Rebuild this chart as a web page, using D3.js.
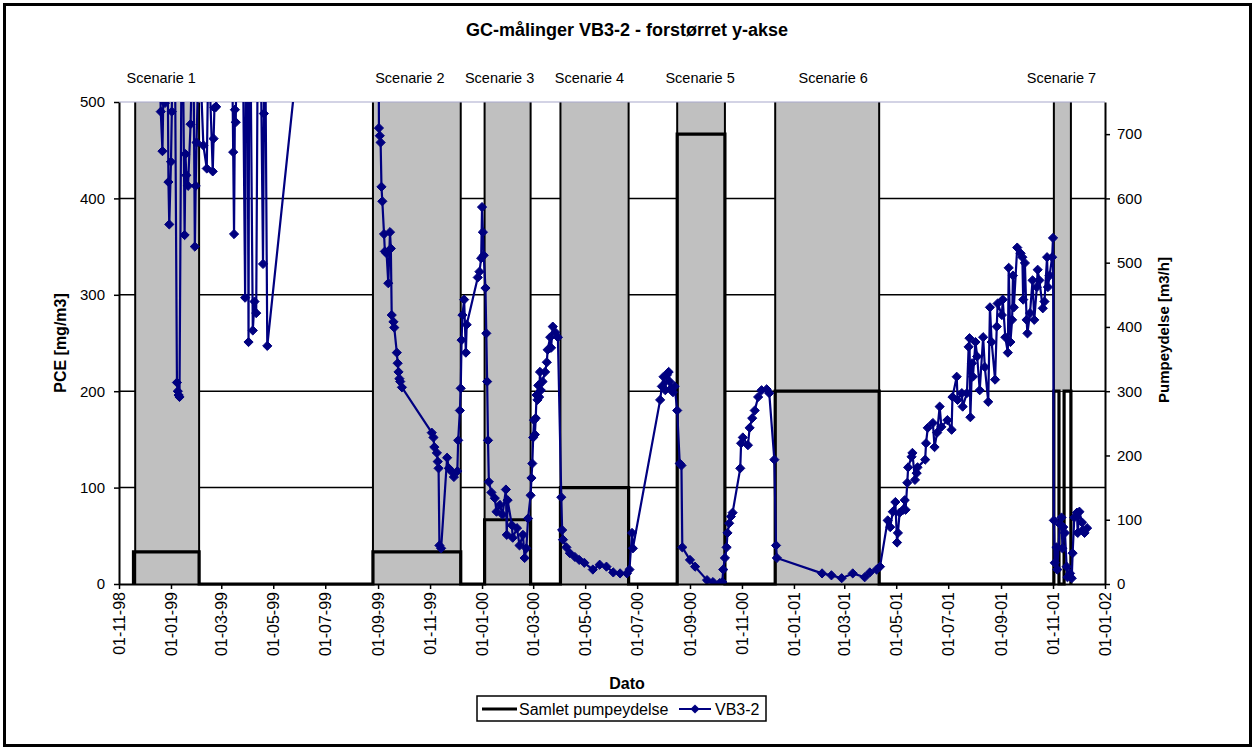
<!DOCTYPE html>
<html>
<head>
<meta charset="utf-8">
<script src="https://cdn.jsdelivr.net/npm/d3@7"></script>
<style>
  body { margin: 0; background: #fff; }
</style>
</head>
<body>
<div id="chart"></div>
<script>
// 1. DATA
const scenarioNames = ["Scenarie 1", "Scenarie 2", "Scenarie 3", "Scenarie 4", "Scenarie 5", "Scenarie 6", "Scenarie 7"];
const scenarioStart = ["1998-11-20", "1999-08-26", "2000-01-04", "2000-04-02", "2000-08-17", "2000-12-10", "2001-11-02"];
const scenarioEnd = ["1999-02-03", "1999-12-07", "2000-02-27", "2000-06-21", "2000-10-12", "2001-04-11", "2001-11-22"];
// shading floor on the right axis (scenario 7 is only shaded above the pump level)
const shadeFloor = [0, 0, 0, 0, 0, 0, 300];

// Samlet pumpeydelse [m3/h], one entry per pumping period
const pumpStart = ["1998-11-18", "1999-08-26", "2000-01-04", "2000-04-02", "2000-08-17", "2000-12-10", "2001-11-02", "2001-11-14"];
const pumpEnd = ["1999-02-03", "1999-12-07", "2000-02-27", "2000-06-21", "2000-10-12", "2001-04-11", "2001-11-08", "2001-11-22"];
const pumpRate = [50, 50, 100, 150, 700, 300, 300, 300];

// VB3-2, PCE [mg/m3]
const pceSamples = [
  ["1998-12-17", 620], ["1998-12-20", 490], ["1998-12-22", 449], ["1998-12-24", 560], ["1998-12-25", 499],
  ["1998-12-27", 700], ["1998-12-29", 417], ["1998-12-30", 373], ["1999-01-01", 438], ["1999-01-02", 490],
  ["1999-01-04", 800], ["1999-01-08", 209], ["1999-01-09", 200], ["1999-01-10", 196], ["1999-01-11", 194],
  ["1999-01-14", 650], ["1999-01-17", 362], ["1999-01-18", 446], ["1999-01-19", 424], ["1999-01-21", 413],
  ["1999-01-24", 477], ["1999-01-27", 600], ["1999-01-29", 350], ["1999-01-30", 413], ["1999-01-31", 458],
  ["1999-02-03", 570], ["1999-02-08", 455], ["1999-02-12", 431], ["1999-02-14", 560], ["1999-02-19", 428],
  ["1999-02-20", 462], ["1999-02-21", 494], ["1999-02-23", 495], ["1999-02-25", 600], ["1999-03-12", 700],
  ["1999-03-15", 448], ["1999-03-16", 363], ["1999-03-17", 492], ["1999-03-18", 479], ["1999-03-23", 900],
  ["1999-03-29", 297], ["1999-03-31", 800], ["1999-04-02", 251], ["1999-04-03", 700], ["1999-04-07", 263],
  ["1999-04-09", 293], ["1999-04-11", 281], ["1999-04-14", 750], ["1999-04-19", 332], ["1999-04-20", 488],
  ["1999-04-21", 650], ["1999-04-24", 247], ["1999-08-31", 1330],
  ["1999-09-02", 473], ["1999-09-03", 465], ["1999-09-04", 458], ["1999-09-05", 412], ["1999-09-06", 397],
  ["1999-09-08", 363], ["1999-09-09", 345], ["1999-09-11", 343], ["1999-09-13", 312], ["1999-09-15", 365],
  ["1999-09-16", 348], ["1999-09-17", 279], ["1999-09-19", 272], ["1999-09-20", 266], ["1999-09-23", 240],
  ["1999-09-24", 229], ["1999-09-25", 220], ["1999-09-26", 213], ["1999-09-27", 210], ["1999-09-29", 204],
  ["1999-11-03", 157], ["1999-11-05", 152], ["1999-11-06", 142], ["1999-11-09", 136], ["1999-11-10", 127],
  ["1999-11-11", 120], ["1999-11-12", 40], ["1999-11-14", 37], ["1999-11-21", 131], ["1999-11-23", 120],
  ["1999-11-27", 116], ["1999-11-29", 111], ["1999-12-03", 117], ["1999-12-04", 149], ["1999-12-06", 180],
  ["1999-12-07", 203], ["1999-12-08", 253], ["1999-12-09", 279], ["1999-12-11", 295], ["1999-12-13", 240],
  ["1999-12-14", 269], ["1999-12-27", 318], ["1999-12-29", 324], ["1999-12-31", 338], ["2000-01-01", 391],
  ["2000-01-02", 365], ["2000-01-03", 341], ["2000-01-05", 307], ["2000-01-06", 260], ["2000-01-07", 210],
  ["2000-01-08", 149], ["2000-01-09", 106], ["2000-01-12", 95], ["2000-01-16", 89], ["2000-01-18", 75],
  ["2000-01-22", 82], ["2000-01-25", 72], ["2000-01-29", 98], ["2000-01-30", 51], ["2000-01-31", 87],
  ["2000-02-05", 61], ["2000-02-06", 48], ["2000-02-11", 58], ["2000-02-14", 40], ["2000-02-18", 51],
  ["2000-02-20", 27], ["2000-02-22", 37], ["2000-02-24", 68], ["2000-02-27", 92], ["2000-02-28", 110],
  ["2000-02-29", 125], ["2000-03-01", 152], ["2000-03-02", 170], ["2000-03-03", 155], ["2000-03-04", 172],
  ["2000-03-05", 196], ["2000-03-06", 191], ["2000-03-07", 206], ["2000-03-08", 194], ["2000-03-09", 220],
  ["2000-03-10", 201], ["2000-03-12", 210], ["2000-03-15", 220], ["2000-03-17", 230], ["2000-03-18", 243],
  ["2000-03-21", 256], ["2000-03-22", 245], ["2000-03-24", 267], ["2000-03-27", 261], ["2000-03-30", 256],
  ["2000-04-03", 90], ["2000-04-04", 56], ["2000-04-05", 46], ["2000-04-09", 38], ["2000-04-13", 32],
  ["2000-04-19", 28], ["2000-04-24", 25], ["2000-04-30", 22], ["2000-05-10", 15], ["2000-05-18", 20],
  ["2000-05-26", 18], ["2000-06-03", 12], ["2000-06-11", 11], ["2000-06-19", 11], ["2000-06-22", 15],
  ["2000-06-25", 53], ["2000-06-26", 37], ["2000-07-28", 191], ["2000-07-30", 205], ["2000-08-01", 215],
  ["2000-08-03", 201], ["2000-08-05", 217], ["2000-08-07", 220], ["2000-08-08", 210], ["2000-08-10", 203],
  ["2000-08-12", 199], ["2000-08-14", 205], ["2000-08-17", 180], ["2000-08-20", 125], ["2000-08-22", 123],
  ["2000-08-23", 38], ["2000-09-01", 25], ["2000-09-07", 18], ["2000-09-21", 4], ["2000-09-28", 2],
  ["2000-10-06", 1], ["2000-10-09", 2], ["2000-10-10", 15], ["2000-10-12", 27], ["2000-10-14", 38],
  ["2000-10-15", 53], ["2000-10-17", 63], ["2000-10-19", 70], ["2000-10-21", 74], ["2000-10-30", 120],
  ["2000-10-31", 146], ["2000-11-02", 152], ["2000-11-08", 144], ["2000-11-10", 162], ["2000-11-13", 172],
  ["2000-11-16", 180], ["2000-11-20", 194], ["2000-11-24", 201], ["2000-11-30", 202], ["2000-12-03", 198],
  ["2000-12-09", 129], ["2000-12-11", 40], ["2000-12-12", 27], ["2001-02-03", 11], ["2001-02-14", 9],
  ["2001-02-26", 6], ["2001-03-11", 11], ["2001-03-25", 7], ["2001-03-31", 12], ["2001-04-08", 15],
  ["2001-04-12", 18], ["2001-04-21", 66], ["2001-04-24", 59], ["2001-04-27", 75], ["2001-04-30", 85],
  ["2001-05-02", 43], ["2001-05-03", 53], ["2001-05-05", 74], ["2001-05-09", 77], ["2001-05-11", 87],
  ["2001-05-12", 77], ["2001-05-14", 105], ["2001-05-15", 121], ["2001-05-19", 132], ["2001-05-20", 136],
  ["2001-05-23", 108], ["2001-05-25", 115], ["2001-05-26", 121], ["2001-06-04", 129], ["2001-06-05", 146],
  ["2001-06-07", 162], ["2001-06-13", 167], ["2001-06-15", 142], ["2001-06-18", 157], ["2001-06-21", 184],
  ["2001-06-23", 163], ["2001-06-30", 170], ["2001-07-05", 160], ["2001-07-06", 194], ["2001-07-11", 215],
  ["2001-07-12", 191], ["2001-07-17", 198], ["2001-07-18", 184], ["2001-07-23", 198], ["2001-07-25", 246],
  ["2001-07-26", 255], ["2001-07-27", 173], ["2001-07-29", 229], ["2001-07-30", 215], ["2001-08-02", 251],
  ["2001-08-04", 236], ["2001-08-07", 201], ["2001-08-11", 256], ["2001-08-13", 225], ["2001-08-17", 189],
  ["2001-08-19", 287], ["2001-08-21", 251], ["2001-08-25", 212], ["2001-08-27", 267], ["2001-08-28", 291],
  ["2001-09-02", 279], ["2001-09-03", 295], ["2001-09-06", 256], ["2001-09-09", 240], ["2001-09-10", 328],
  ["2001-09-12", 251], ["2001-09-14", 274], ["2001-09-15", 320], ["2001-09-16", 287], ["2001-09-20", 349],
  ["2001-09-24", 343], ["2001-09-26", 339], ["2001-09-27", 295], ["2001-09-29", 333], ["2001-10-01", 274],
  ["2001-10-02", 260], ["2001-10-05", 281], ["2001-10-08", 315], ["2001-10-10", 274], ["2001-10-13", 308],
  ["2001-10-14", 326], ["2001-10-16", 315], ["2001-10-20", 286], ["2001-10-22", 293], ["2001-10-25", 339],
  ["2001-10-26", 308], ["2001-10-28", 320], ["2001-10-31", 339], ["2001-11-01", 359], ["2001-11-02", 66],
  ["2001-11-03", 22], ["2001-11-05", 38], ["2001-11-06", 15], ["2001-11-09", 62], ["2001-11-11", 69],
  ["2001-11-12", 37], ["2001-11-13", 59], ["2001-11-15", 53], ["2001-11-17", 18], ["2001-11-18", 7],
  ["2001-11-21", 11], ["2001-11-23", 6], ["2001-11-24", 32], ["2001-11-26", 69], ["2001-11-29", 74],
  ["2001-11-30", 53], ["2001-12-02", 75], ["2001-12-05", 64], ["2001-12-06", 56], ["2001-12-08", 53],
  ["2001-12-11", 58]
];

const leftTicks = [0, 100, 200, 300, 400, 500];
const rightTicks = [0, 100, 200, 300, 400, 500, 600, 700];
const gridValues = [100, 200, 300, 400];

// 2. CONFIGURATION
const width = 1260;
const height = 751;
const plot = { left: 119, right: 1105, top: 102, bottom: 584 };
const font = "'Liberation Sans', Arial, sans-serif";
const theme = {
  shade: "#c0c0c0",
  series: "#000080",
  pump: "#000000",
  topLine: "#a8a8cc",
};
// label nudges relative to the centre of each shaded period (px)
const labelNudge = [-6, -7, -8, -5, -1, 6, -1];

const parse = d3.utcParse("%Y-%m-%d");

const x = d3.scaleUtc()
  .domain([parse("1998-11-01"), parse("2002-01-01")])
  .range([plot.left, plot.right]);
const yLeft = d3.scaleLinear().domain([0, 500]).range([plot.bottom, plot.top]);
const yRight = d3.scaleLinear().domain([0, 750]).range([plot.bottom, plot.top]);

const svg = d3.select("#chart")
  .append("svg")
  .attr("width", width)
  .attr("height", height)
  .style("font-family", font)
  .style("display", "block");

svg.append("rect").attr("width", width).attr("height", height).attr("fill", "#fff");

// 3. GRID
svg.append("g")
  .selectAll("line")
  .data(gridValues)
  .join("line")
  .attr("x1", plot.left)
  .attr("x2", plot.right)
  .attr("y1", (d) => yLeft(d))
  .attr("y2", (d) => yLeft(d))
  .attr("stroke", "#000")
  .attr("stroke-width", 1.5);

// 4. SCENARIO SHADING
const scenarios = scenarioNames.map((name, i) => ({
  name,
  start: parse(scenarioStart[i]),
  end: parse(scenarioEnd[i]),
  floor: shadeFloor[i],
  nudge: labelNudge[i],
}));

svg.append("g")
  .selectAll("rect")
  .data(scenarios)
  .join("rect")
  .attr("x", (d) => x(d.start))
  .attr("width", (d) => x(d.end) - x(d.start))
  .attr("y", yRight(750))
  .attr("height", (d) => yRight(d.floor) - yRight(750))
  .attr("fill", theme.shade);

const edges = scenarios.flatMap((d) => [d.start, d.end]);
svg.append("g")
  .selectAll("line")
  .data(edges)
  .join("line")
  .attr("x1", (d) => x(d))
  .attr("x2", (d) => x(d))
  .attr("y1", plot.top)
  .attr("y2", plot.bottom)
  .attr("stroke", "#000")
  .attr("stroke-width", 2);

// top border of plot area
svg.append("line")
  .attr("x1", plot.left)
  .attr("x2", plot.right)
  .attr("y1", yLeft(500))
  .attr("y2", yLeft(500))
  .attr("stroke", theme.topLine)
  .attr("stroke-width", 1.2);

// scenario labels
svg.append("g")
  .selectAll("text")
  .data(scenarios)
  .join("text")
  .attr("x", (d) => (x(d.start) + x(d.end)) / 2 + d.nudge)
  .attr("y", 83)
  .attr("text-anchor", "middle")
  .style("font-size", "14.5px")
  .style("fill", "#000")
  .text((d) => d.name);

// 5. PUMP LINE (step)
const pumpPoints = [];
pumpRate.forEach((rate, i) => {
  const s = parse(pumpStart[i]);
  const e = parse(pumpEnd[i]);
  pumpPoints.push([s, 0], [s, rate], [e, rate], [e, 0]);
});

svg.append("path")
  .datum(pumpPoints)
  .attr("fill", "none")
  .attr("stroke", theme.pump)
  .attr("stroke-width", 3.2)
  .attr("stroke-linejoin", "miter")
  .attr("d", d3.line().x((d) => x(d[0])).y((d) => yRight(d[1])));

// 6. VB3-2 SERIES
svg.append("defs")
  .append("clipPath")
  .attr("id", "plot-clip")
  .append("rect")
  .attr("x", plot.left)
  .attr("y", plot.top)
  .attr("width", plot.right - plot.left)
  .attr("height", plot.bottom - plot.top);

const series = pceSamples.map(([d, v]) => ({ date: parse(d), value: v }));
const seriesLayer = svg.append("g").attr("clip-path", "url(#plot-clip)");

seriesLayer.append("path")
  .datum(series)
  .attr("fill", "none")
  .attr("stroke", theme.series)
  .attr("stroke-width", 2.2)
  .attr("stroke-linejoin", "round")
  .attr("d", d3.line().x((d) => x(d.date)).y((d) => yLeft(d.value)));

const diamond = "M0,-4.6L4.6,0L0,4.6L-4.6,0Z";
seriesLayer.append("g")
  .selectAll("path")
  .data(series.filter((d) => d.value <= 500))
  .join("path")
  .attr("transform", (d) => `translate(${x(d.date)},${yLeft(d.value)})`)
  .attr("d", diamond)
  .attr("fill", theme.series)
  .attr("stroke", theme.series)
  .attr("stroke-width", 1);

// 7. AXES
const styleAxis = (g) => {
  g.select(".domain").attr("stroke", "#000").attr("stroke-width", 2);
  g.selectAll(".tick line").attr("stroke", "#000").attr("stroke-width", 1.5);
  g.selectAll(".tick text").style("font-family", font).style("fill", "#000");
};

svg.append("g")
  .attr("transform", `translate(${plot.left},0)`)
  .call(d3.axisLeft(yLeft).tickValues(leftTicks).tickSize(5).tickSizeOuter(0).tickPadding(9))
  .call(styleAxis)
  .call((g) => g.selectAll(".tick text").style("font-size", "15px"));

svg.append("g")
  .attr("transform", `translate(${plot.right},0)`)
  .call(d3.axisRight(yRight).tickValues(rightTicks).tickSize(5).tickSizeOuter(0).tickPadding(7))
  .call(styleAxis)
  .call((g) => g.selectAll(".tick text").style("font-size", "15px"));

const monthTicks = d3.utcMonth.every(2).range(parse("1998-11-01"), parse("2002-01-02"));
svg.append("g")
  .attr("transform", `translate(0,${plot.bottom})`)
  .call(d3.axisBottom(x).tickValues(monthTicks).tickSize(5).tickSizeOuter(0).tickFormat(d3.utcFormat("%d-%m-%y")))
  .call(styleAxis)
  .call((g) =>
    g.selectAll(".tick text")
      .style("font-size", "16px")
      .attr("transform", "rotate(-90)")
      .attr("text-anchor", "end")
      .attr("x", -8)
      .attr("y", 0)
      .attr("dy", "0.35em")
  );

// 8. TITLES
svg.append("text")
  .attr("x", 627)
  .attr("y", 36)
  .attr("text-anchor", "middle")
  .style("font-size", "18px")
  .style("font-weight", "bold")
  .text("GC-målinger VB3-2 - forstørret y-akse");

svg.append("text")
  .attr("transform", `translate(66,${(plot.top + plot.bottom) / 2}) rotate(-90)`)
  .attr("text-anchor", "middle")
  .style("font-size", "16px")
  .style("font-weight", "bold")
  .text("PCE [mg/m3]");

svg.append("text")
  .attr("transform", `translate(1169,330) rotate(-90)`)
  .attr("text-anchor", "middle")
  .style("font-size", "15px")
  .style("font-weight", "bold")
  .text("Pumpeydelse [m3/h]");

svg.append("text")
  .attr("x", 627)
  .attr("y", 689)
  .attr("text-anchor", "middle")
  .style("font-size", "16px")
  .style("font-weight", "bold")
  .text("Dato");

// 9. LEGEND
const legend = svg.append("g").attr("transform", "translate(477,696)");
legend.append("rect")
  .attr("width", 289)
  .attr("height", 25)
  .attr("fill", "#fff")
  .attr("stroke", "#000")
  .attr("stroke-width", 1.5);
legend.append("line")
  .attr("x1", 5).attr("x2", 40).attr("y1", 13).attr("y2", 13)
  .attr("stroke", theme.pump).attr("stroke-width", 3.2);
legend.append("text")
  .attr("x", 42).attr("y", 18.5)
  .style("font-size", "16px")
  .text("Samlet pumpeydelse");
legend.append("line")
  .attr("x1", 202).attr("x2", 234).attr("y1", 13).attr("y2", 13)
  .attr("stroke", theme.series).attr("stroke-width", 2);
legend.append("path")
  .attr("transform", "translate(218,13)")
  .attr("d", diamond)
  .attr("fill", theme.series);
legend.append("text")
  .attr("x", 238).attr("y", 18.5)
  .style("font-size", "16px")
  .text("VB3-2");

// 10. OUTER FRAME
svg.append("rect")
  .attr("x", 4.5)
  .attr("y", 4.5)
  .attr("width", 1246)
  .attr("height", 741)
  .attr("fill", "none")
  .attr("stroke", "#000")
  .attr("stroke-width", 3);
</script>
</body>
</html>
